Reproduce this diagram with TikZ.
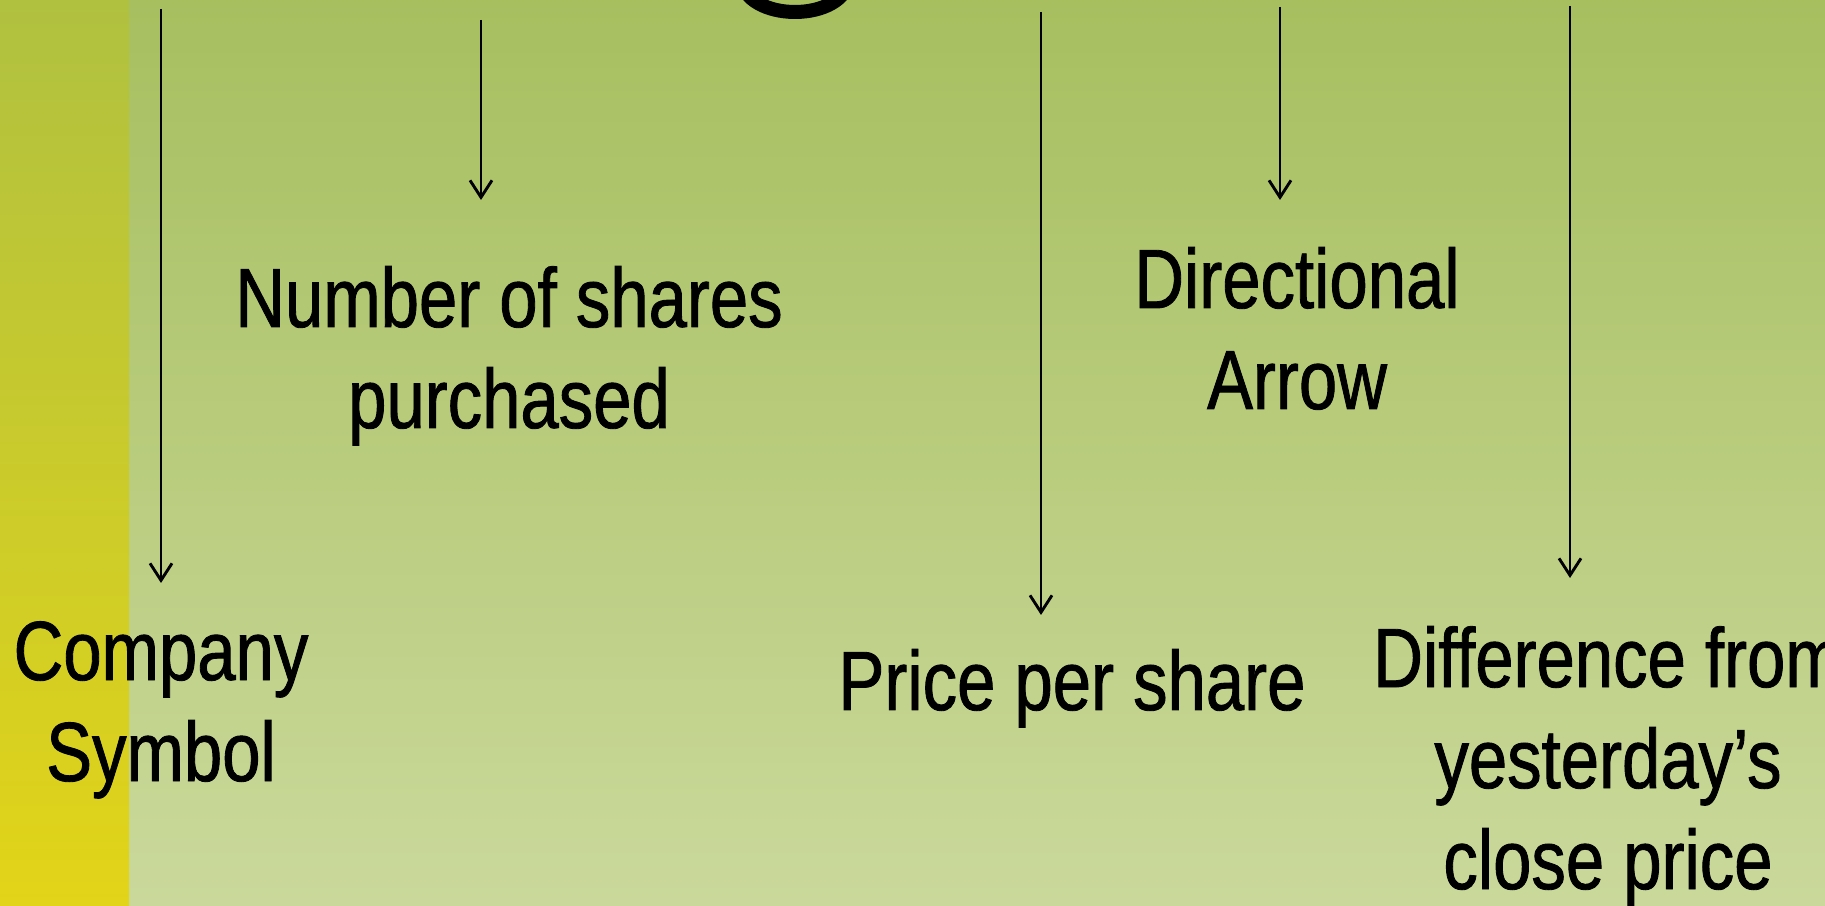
\documentclass[tikz,border=0pt]{standalone}
\usepackage{fontspec}
\usetikzlibrary{arrows.meta}
\newfontfamily\labelfont[FakeStretch=0.82,FakeBold=1]{Liberation Sans}
\definecolor{bgtop}{RGB}{167,191,95}
\definecolor{bgbottom}{RGB}{202,217,155}
\definecolor{striptop}{RGB}{176,193,64}
\definecolor{stripbottom}{RGB}{226,212,24}
\tikzset{
  pointer/.style={draw=black, line width=2.9pt, -{Straight Barb[length=17pt,width=22pt]}},
  caption/.style={font=\labelfont\fontsize{84}{101}\selectfont, align=center, anchor=base, inner sep=0pt, text=black},
}
\begin{document}
\begin{tikzpicture}[x=1pt,y=1pt]
\useasboundingbox (0,0) rectangle (1825,905);
\begin{scope}
  \clip (0,0) rectangle (1825,905);
  % slide background and the side band
  \shade[top color=bgtop, bottom color=bgbottom] (0,0) rectangle (1825,905);
  \shade[top color=striptop, bottom color=stripbottom] (0,0) rectangle (129,905);
  % lower bowl of the large title letter
  \draw[line width=14pt] (795,923) ellipse [x radius=52, y radius=30];

  % arrow end points
  \coordinate (from1) at (161,896);  \coordinate (to1) at (161,322);
  \coordinate (from2) at (481,885);  \coordinate (to2) at (481,705);
  \coordinate (from3) at (1041,893); \coordinate (to3) at (1041,290);
  \coordinate (from4) at (1280,898); \coordinate (to4) at (1280,705);
  \coordinate (from5) at (1570,899); \coordinate (to5) at (1570,327);

  \draw[pointer] (from1) -- (to1);
  \draw[pointer] (from2) -- (to2);
  \draw[pointer] (from3) -- (to3);
  \draw[pointer] (from4) -- (to4);
  \draw[pointer] (from5) -- (to5);

  % captions (anchored at the baseline of their last line)
  \node[caption] (company) at (161,124) {Company\\Symbol};
  \node[caption] (shares) at (509,477) {Number of shares\\purchased};
  \node[caption] (direction) at (1297,496) {Directional\\Arrow};
  \node[caption] (price) at (1072,195) {Price per share};
  \node[caption] (difference) at (1608,16) {Difference from\\yesterday’s\\close price};
\end{scope}
\end{tikzpicture}
\end{document}
